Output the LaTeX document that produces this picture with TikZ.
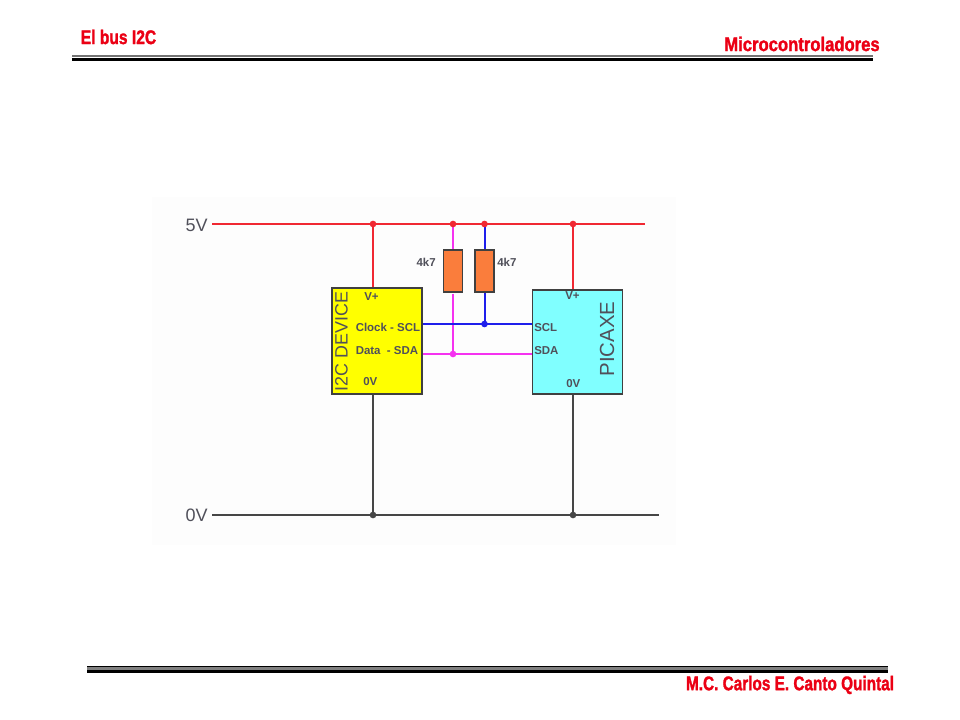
\documentclass[tikz,border=0pt]{standalone}
\usepackage{fontspec}
\setmainfont{Liberation Sans}
\newfontfamily\headf[BoldFeatures={FakeBold=1.6}]{Liberation Sans}
\definecolor{headred}{RGB}{235,0,20}
\definecolor{netred}{RGB}{240,40,50}
\definecolor{netblue}{RGB}{30,30,235}
\definecolor{netmag}{RGB}{245,50,240}
\definecolor{netgray}{RGB}{70,70,70}
\definecolor{resfill}{RGB}{250,125,60}
\definecolor{ylw}{RGB}{255,255,0}
\definecolor{cyn}{RGB}{128,255,255}
\definecolor{txt}{RGB}{80,80,90}
\tikzset{
 wire/.style={line width=1.5pt},
 junction/.style={circle,inner sep=0pt,minimum size=5pt,fill=#1},
 chip/.style={draw=black!75,line width=1.4pt,inner sep=0pt,anchor=north west},
 res/.style={draw=black!75,line width=1.2pt,fill=resfill,inner sep=0pt,minimum width=14pt,minimum height=31.5pt},
 pin/.style={font=\fontsize{8.6}{10}\selectfont\bfseries,text=txt,inner sep=0pt},
 rail/.style={font=\fontsize{13.5}{15}\selectfont,text=txt,inner sep=0pt},
 head/.style={font=\headf\fontsize{13}{15}\selectfont\bfseries,text=headred,inner sep=0pt,yscale=1.14},
}
\begin{document}
\begin{tikzpicture}[x=0.75pt,y=-0.75pt]
\useasboundingbox (0,0) rectangle (960,720);
\fill[white] (0,0) rectangle (960,720);
\fill[black!0.8] (152,197) rectangle (676,545);
% header and footer
\node[head,xscale=.90] (title) at (118.5,37) {El bus I2C};
\node[head,xscale=.96] (course) at (802,44) {Microcontroladores};
\node[head,xscale=.885] (author) at (790,685) {M.C. Carlos E. Canto Quintal};
\fill[black!55] (72,55) rectangle (873,57);
\fill[black] (72,57.6) rectangle (873,61);
\fill[black] (87,666) rectangle (888,667.4);
\fill[black!50] (87,667.4) rectangle (888,670);
\fill[black] (87,670) rectangle (888,673);
% rail nodes
\node[rail,anchor=east] (v5) at (208,225) {5V};
\node[rail,anchor=east] (v0) at (208,515) {0V};
\coordinate (r5) at (645,224);
\coordinate (r0) at (659,515);
% chips
\node[chip,fill=ylw,minimum width=67.5pt,minimum height=79.5pt] (dev) at (331,287) {};
\node[chip,fill=cyn,minimum width=67.5pt,minimum height=78pt] (pic) at (531.5,289) {};
% resistors
\node[res] (r1) at (453,271) {};
\node[res] (r2) at (484.5,271) {};
% junctions
\coordinate (a5) at (373,224); \coordinate (b5) at (453,224);
\coordinate (c5) at (484.5,224); \coordinate (d5) at (573,224);
\coordinate (a0) at (373,515); \coordinate (d0) at (573,515);
\coordinate (sclj) at (484.5,324); \coordinate (sdaj) at (453,354);
\coordinate (r1b) at (453,294);
% wires
\draw[wire,netmag] (b5) -- (r1.north);
\draw[wire,netmag] (r1b) -- (sdaj);
\draw[wire,netblue] (c5) -- (r2.north);
\draw[wire,netblue] (r2.south) -- (sclj);
\draw[wire,netred] (212,224) -- (r5);
\draw[wire,netred] (a5) -- (a5 |- dev.north);
\draw[wire,netred] (d5) -- (d5 |- pic.north);
\draw[wire,netblue] (dev.east |- sclj) -- (pic.west |- sclj);
\draw[wire,netmag] (dev.east |- sdaj) -- (pic.west |- sdaj);
\draw[wire,netgray] (212,515) -- (r0);
\draw[wire,netgray] (a0 |- dev.south) -- (a0);
\draw[wire,netgray] (d0 |- pic.south) -- (d0);
% dots
\node[junction=netred] at (a5) {};
\node[junction=netred] at (b5) {};
\node[junction=netred] at (c5) {};
\node[junction=netred] at (d5) {};
\node[junction=netgray] at (a0) {};
\node[junction=netgray] at (d0) {};
\node[junction=netblue] at (sclj) {};
\node[junction=netmag] at (sdaj) {};
% labels
\node[pin,anchor=east] (l1) at (436,262) {4k7};
\node[pin,anchor=west] (l2) at (497,262) {4k7};
\node[rail,font=\fontsize{13.4}{15}\selectfont,rotate=90] (devn) at (341.5,341.5) {I2C DEVICE};
\node[rail,font=\fontsize{15.3}{17}\selectfont,rotate=90] (picn) at (607,339) {PICAXE};
\node[pin,anchor=west] at (364,297) {V+};
\node[pin,anchor=west] at (355.5,327) {Clock - SCL};
\node[pin,anchor=west] at (355.5,351) {Data \ - SDA};
\node[pin,anchor=west] at (363,382) {0V};
\node[pin,anchor=west] at (565,296) {V+};
\node[pin,anchor=west] at (534,328) {SCL};
\node[pin,anchor=west] at (534,351) {SDA};
\node[pin,anchor=west] at (566,384) {0V};
\end{tikzpicture}
\end{document}
